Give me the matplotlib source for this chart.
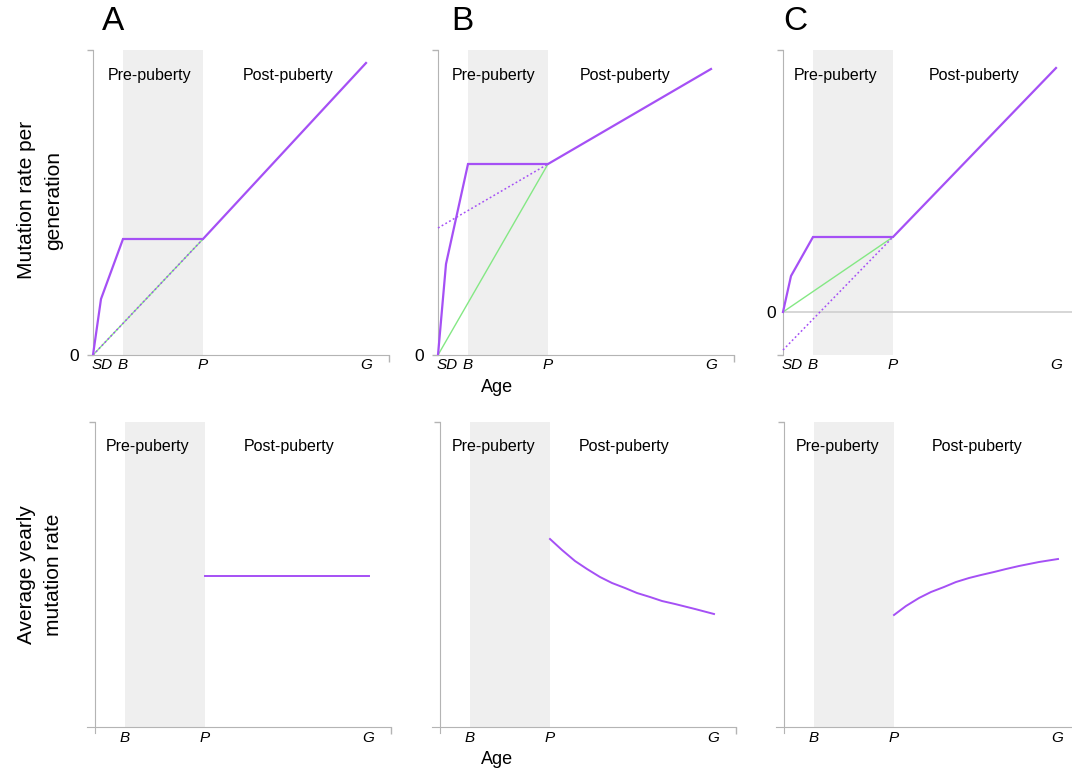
import numpy as np
import matplotlib
import matplotlib.pyplot as plt

matplotlib.use("Agg")
plt.rcParams['font.family'] = ['Liberation Sans', 'DejaVu Sans']

# schematic ages (arbitrary units)
age_D = 8
age_B = 30
age_P = 110
age_G = 273
ages = [0, age_D, age_B, age_P, age_G]
age_ticks = [9, age_B, age_P, age_G]
age_tick_labels = ["SD", "B", "P", "G"]

# cumulative mutations per generation (top row)
mut_A = [0, 56, 116, 116, 292]
mut_B = [0, 91, 191, 191, 286]
mut_C = [0, 36, 75, 75, 244]
# dotted back-extrapolation of the post-puberty line, at age 0 and P
extrap_A = [0, 116]
extrap_B = [127, 191]
extrap_C = [-38, 75]
# green: straight line from zero to the value at P
green_A = [0, 116]
green_B = [0, 191]
green_C = [0, 75]

# average yearly mutation rate (bottom row)
avg_ages = [110, 122, 135, 147, 160, 172, 185, 197, 210, 222, 235, 255, 274]
avg_A = [151, 151, 151, 151, 151, 151, 151, 151, 151, 151, 151, 151, 151]
avg_B = [188, 177, 166, 158, 150, 144, 139, 134, 130, 126, 123, 118, 113]
avg_C = [112, 121, 129, 135, 140, 145, 149, 152, 155, 158, 161, 165, 168]

PURPLE = "#a550f5"
GREEN = "#84e884"
SHADE = "#efefef"
SPINE = "#b4b4b4"

W, H = 1072, 772
fig = plt.figure(figsize=(W / 100, H / 100), dpi=100)

X_LO, X_HI, X_END = -8, 300, 296


def style_axes(ax, ylim, top_row, has_bottom=True):
    ax.set_xlim(X_LO, X_HI)
    ax.set_ylim(*ylim)
    ax.yaxis.remove_overlapping_locs = False
    ax.xaxis.remove_overlapping_locs = False
    for s in ["top", "right"]:
        ax.spines[s].set_visible(False)
    ax.spines["left"].set_position(("data", 0))
    ax.spines["left"].set_color(SPINE)
    ax.spines["bottom"].set_color(SPINE)
    if top_row:
        ax.spines["bottom"].set_position(("data", ylim[0]))
        ax.spines["bottom"].set_bounds(0, X_END)
    else:
        ax.spines["bottom"].set_position(("data", 0))
        ax.spines["bottom"].set_bounds(X_LO, X_END)
    ax.set_xticks([X_END], labels=[""])
    if not has_bottom:
        ax.spines["bottom"].set_visible(False)
    ax.tick_params(axis="both", which="major", length=6.5 * 0.72, width=1,
                   color=SPINE, direction="out")
    if not has_bottom:
        ax.tick_params(axis="x", which="major", length=0)
    ax.tick_params(axis="both", which="minor", length=0)
    ax.patch.set_alpha(0)


def add_shading(ax, ymin=0):
    ax.axvspan(age_B, age_P, ymin=ymin, color=SHADE, lw=0, zorder=0)


def add_phase_text(ax, x_pre, x_post, yfrac):
    tr = matplotlib.transforms.blended_transform_factory(ax.transData, ax.transAxes)
    ax.text(x_pre, yfrac, "Pre-puberty", transform=tr, ha="center", va="center", fontsize=11.5)
    ax.text(x_post, yfrac, "Post-puberty", transform=tr, ha="center", va="center", fontsize=11.5)


top_spines = [93, 438, 783]
bot_spines = [95, 440, 784]
top_ylims = [(0, 305), (0, 305), (-43, 262)]
bot_ylim = (-6, 305)
muts = [mut_A, mut_B, mut_C]
extraps = [extrap_A, extrap_B, extrap_C]
greens = [green_A, green_B, green_C]
avgs = [avg_A, avg_B, avg_C]
letters = ["A", "B", "C"]
letter_dx = [20, 24, 12]
pre_x_top = [57, 56, 53]
post_x_top = [195, 187, 191]
pre_x_bot = [53, 54, 54]
post_x_bot = [194, 184, 193]

for i in range(3):
    # ---- top row ----
    ax = fig.add_axes([(top_spines[i] + X_LO) / W, 1 - 355 / H, (X_HI - X_LO) / W, 305 / H])
    ylim = top_ylims[i]
    style_axes(ax, ylim, True, has_bottom=(i != 2))
    add_shading(ax)
    ax.set_yticks([ylim[0], ylim[1]], labels=["", ""])
    ax.set_yticks([0], labels=["0"], minor=True)
    if i == 2:
        ax.hlines(0, 0, X_HI + 20, color="#cfcfcf", lw=1.2, zorder=1, clip_on=False)
        ax.tick_params(axis="y", which="minor", pad=5, labelsize=12.5)
    else:
        ax.tick_params(axis="y", which="minor", pad=10, labelsize=12.5)
    ax.set_xticks(age_ticks, labels=age_tick_labels, minor=True)
    ax.tick_params(axis="x", which="minor", pad=2, labelsize=11)
    for lab in ax.get_xticklabels(minor=True):
        lab.set_fontstyle("italic")

    ax.plot([0, age_P], greens[i], color=GREEN, lw=1.0, zorder=2)
    ax.plot([0, age_P], extraps[i], color=PURPLE, lw=1.1, ls=(0, (1.2, 1.6)), zorder=3)
    ax.plot(ages, muts[i], color=PURPLE, lw=1.6, zorder=4, solid_joinstyle="miter")

    add_phase_text(ax, pre_x_top[i], post_x_top[i], 0.915)
    tr = matplotlib.transforms.blended_transform_factory(ax.transData, ax.transAxes)
    ax.text(letter_dx[i], 1.095, letters[i], transform=tr, ha="center", va="center", fontsize=24)

    # ---- bottom row ----
    bx = fig.add_axes([(bot_spines[i] + X_LO) / W, 1 - 733 / H, (X_HI - X_LO) / W, 311 / H])
    style_axes(bx, bot_ylim, False)
    add_shading(bx, ymin=(0 - bot_ylim[0]) / (bot_ylim[1] - bot_ylim[0]))
    bx.set_yticks([bot_ylim[1]], labels=[""])
    bx.set_xticks(age_ticks[1:], labels=age_tick_labels[1:], minor=True)
    bx.tick_params(axis="x", which="minor", pad=3, labelsize=11)
    for lab in bx.get_xticklabels(minor=True):
        lab.set_fontstyle("italic")
    bx.plot(avg_ages, avgs[i], color=PURPLE, lw=1.4, zorder=4)
    add_phase_text(bx, pre_x_bot[i], post_x_bot[i], 0.92)

fig.text(40 / W, 1 - 200 / H, "Mutation rate per\ngeneration", rotation=90,
         ha="center", va="center", fontsize=15, linespacing=1.5, multialignment="center")
fig.text(40 / W, 1 - 575 / H, "Average yearly\nmutation rate", rotation=90,
         ha="center", va="center", fontsize=15, linespacing=1.5, multialignment="center")
fig.text(497 / W, 1 - 388 / H, "Age", ha="center", va="center", fontsize=13)
fig.text(497 / W, 1 - 760 / H, "Age", ha="center", va="center", fontsize=13)

fig.savefig("out.png", dpi=100)
